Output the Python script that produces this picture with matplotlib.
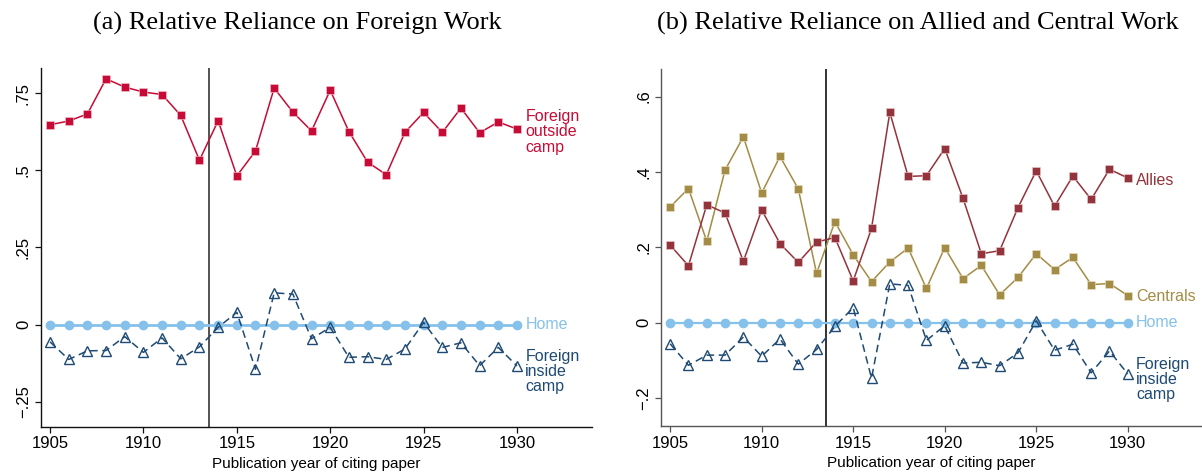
import matplotlib
matplotlib.use("Agg")
import matplotlib.pyplot as plt

years = list(range(1905, 1931))

foreign_outside = [0.648, 0.660, 0.683, 0.797, 0.770, 0.754, 0.746, 0.678, 0.533,
                   0.661, 0.482, 0.563, 0.767, 0.689, 0.628, 0.760, 0.626, 0.527,
                   0.486, 0.623, 0.688, 0.623, 0.702, 0.622, 0.657, 0.634]
foreign_inside = [-0.056, -0.113, -0.085, -0.084, -0.039, -0.090, -0.043, -0.111, -0.072,
                  -0.009, 0.040, -0.145, 0.103, 0.099, -0.046, -0.009, -0.106, -0.104,
                  -0.113, -0.079, 0.007, -0.074, -0.059, -0.133, -0.074, -0.134]
home = [0.0] * len(years)

allies = [0.206, 0.151, 0.313, 0.291, 0.163, 0.299, 0.210, 0.160, 0.214,
          0.226, 0.111, 0.250, 0.558, 0.388, 0.390, 0.462, 0.330, 0.183,
          0.191, 0.305, 0.403, 0.309, 0.389, 0.327, 0.407, 0.384]
centrals = [0.307, 0.356, 0.216, 0.405, 0.493, 0.344, 0.441, 0.355, 0.131,
            0.268, 0.180, 0.109, 0.161, 0.198, 0.091, 0.199, 0.117, 0.152,
            0.074, 0.120, 0.183, 0.141, 0.173, 0.101, 0.104, 0.072]
foreign_inside_b = [-0.056, -0.113, -0.086, -0.086, -0.038, -0.089, -0.043, -0.110, -0.071,
                    -0.010, 0.040, -0.147, 0.103, 0.099, -0.047, -0.008, -0.107, -0.105,
                    -0.114, -0.080, 0.005, -0.073, -0.057, -0.133, -0.075, -0.136]

xticks = [1905, 1910, 1915, 1920, 1925, 1930]
yticks_a = [-0.25, 0, 0.25, 0.5, 0.75]
yticklabels_a = ["\u2212.25", "0", ".25", ".5", ".75"]
yticks_b = [-0.2, 0, 0.2, 0.4, 0.6]
yticklabels_b = ["\u2212.2", "0", ".2", ".4", ".6"]

title_a = "(a) Relative Reliance on Foreign Work"
title_b = "(b) Relative Reliance on Allied and Central Work"
xlabel = "Publication year of citing paper"

C_RED = "#C60C36"
C_HOME = "#85C1EB"
C_NAVY = "#1E4A74"
C_ALLY = "#93343C"
C_CENT = "#A38C45"

plt.rcParams['font.family'] = ['Liberation Sans', 'DejaVu Sans']

fig = plt.figure(figsize=(12.02, 4.73), dpi=100)
W, H = 1202, 473

def axrect(x0, x1, ytop, ybot):
    return [x0 / W, 1 - ybot / H, (x1 - x0) / W, (ybot - ytop) / H]

ax1 = fig.add_axes(axrect(40.7, 591.7, 68.3, 426.7))
ax2 = fig.add_axes(axrect(661, 1201, 69, 426))

def style(ax, yticks, ylabels, ylim, spine_col):
    ax.set_xlim(1904.5, 1934.0)
    ax.set_ylim(*ylim)
    ax.set_xticks(xticks)
    ax.set_xticklabels([str(x) for x in xticks], fontsize=12)
    ax.set_yticks(yticks)
    ax.set_yticklabels(ylabels, fontsize=12, rotation=90, va='center')
    for s in ['top', 'right']:
        ax.spines[s].set_visible(False)
    for s in ['left', 'bottom']:
        ax.spines[s].set_color(spine_col)
        ax.spines[s].set_linewidth(1.0)
    ax.tick_params(axis='both', length=4, width=0.9, color=spine_col, pad=3)
    ax.set_xlabel(xlabel, fontsize=11, labelpad=4)

style(ax1, yticks_a, yticklabels_a, (-0.331, 0.831), "#111111")
style(ax2, yticks_b, yticklabels_b, (-0.274, 0.673), "#555555")

ax1.axvline(1913.5, color="#444444", lw=1.3, zorder=1)
ax2.axvline(1913.5, color="#111111", lw=1.2, zorder=1)

ms_sq = 5.8
# Panel a
ax1.plot(years, foreign_outside, color=C_RED, lw=1.1, marker='s', ms=ms_sq,
         mec='#f4c8d2', mew=0.4, zorder=3)
ax1.plot(years, home, color=C_HOME, lw=2.0, marker='o', ms=6, mec=C_HOME, zorder=3)
ax1.plot(years, foreign_inside, color=C_NAVY, lw=1.1, ls=(0, (5, 3)), marker='^',
         ms=7, mfc='none', mec=C_NAVY, mew=1.0, zorder=4)

def lab(ax, x, y, text, col, dy=0):
    ax.annotate(text, (x, y), xytext=(6, dy), textcoords='offset points',
                color=col, fontsize=11.5, va='center', ha='left', linespacing=1.02,
                annotation_clip=False)

lab(ax1, years[-1], foreign_outside[-1], "Foreign\noutside\ncamp", C_RED, -2)
lab(ax1, years[-1], home[-1], "Home", C_HOME, 0)
lab(ax1, years[-1], foreign_inside[-1], "Foreign\ninside\ncamp", C_NAVY, -4)

# Panel b
ax2.plot(years, centrals, color=C_CENT, lw=1.1, marker='s', ms=ms_sq,
         mec='#eee2c8', mew=0.4, zorder=3)
ax2.plot(years, allies, color=C_ALLY, lw=1.1, marker='s', ms=ms_sq,
         mec='#ecccce', mew=0.4, zorder=3)
ax2.plot(years, home, color=C_HOME, lw=1.6, marker='o', ms=6, mec=C_HOME, zorder=3)
ax2.plot(years, foreign_inside_b, color=C_NAVY, lw=1.1, ls=(0, (5, 3)), marker='^',
         ms=7, mfc='none', mec=C_NAVY, mew=1.0, zorder=4)

lab(ax2, years[-1], allies[-1], "Allies", C_ALLY, -2)
lab(ax2, years[-1], centrals[-1], "Centrals", C_CENT, -1)
lab(ax2, years[-1], home[-1], "Home", C_HOME, 0)
lab(ax2, years[-1], foreign_inside_b[-1], "Foreign\ninside\ncamp", C_NAVY, -4)

fig.text(297 / W, 1 - 23 / H, title_a, fontsize=19, family=['Liberation Serif', 'DejaVu Serif'],
         ha='center', va='center')
fig.text(918 / W, 1 - 23 / H, title_b, fontsize=19, family=['Liberation Serif', 'DejaVu Serif'],
         ha='center', va='center')

fig.savefig("out.png", dpi=100)
